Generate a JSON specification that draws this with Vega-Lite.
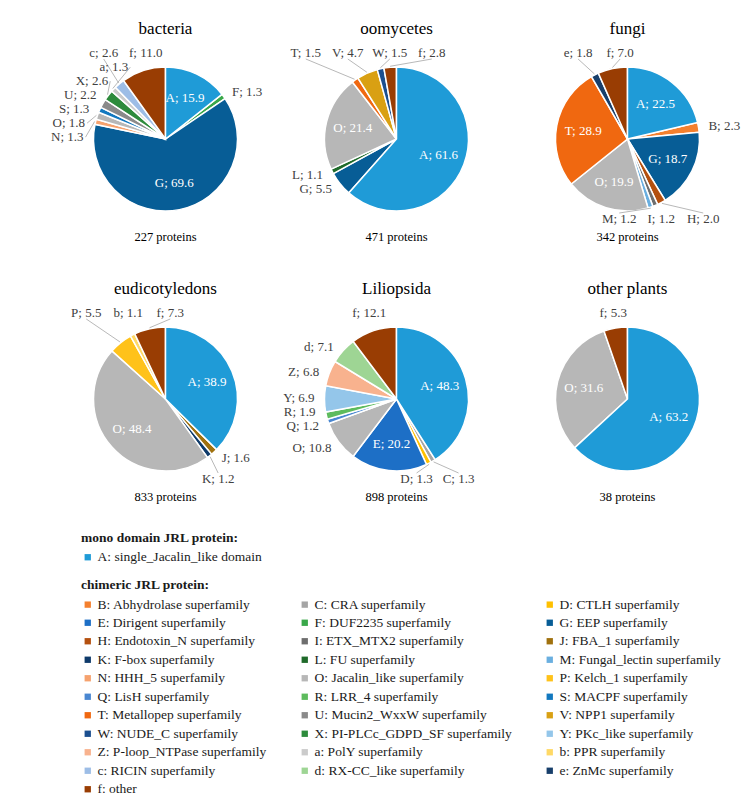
{
  "$schema": "https://vega.github.io/schema/vega-lite/v6.json",
  "padding": {"left": 50, "top": 9, "right": 0, "bottom": 3},
  "autosize": {"type": "pad"},
  "background": "white",
  "datasets": {
    "slices": [
      {"org": "bacteria", "cat": "A", "v": 15.9},
      {"org": "bacteria", "cat": "F", "v": 1.3},
      {"org": "bacteria", "cat": "G", "v": 69.6},
      {"org": "bacteria", "cat": "N", "v": 1.3},
      {"org": "bacteria", "cat": "O", "v": 1.8},
      {"org": "bacteria", "cat": "S", "v": 1.3},
      {"org": "bacteria", "cat": "U", "v": 2.2},
      {"org": "bacteria", "cat": "X", "v": 2.6},
      {"org": "bacteria", "cat": "a", "v": 1.3},
      {"org": "bacteria", "cat": "c", "v": 2.6},
      {"org": "bacteria", "cat": "f", "v": 11.0},
      {"org": "oomycetes", "cat": "A", "v": 61.6},
      {"org": "oomycetes", "cat": "G", "v": 5.5},
      {"org": "oomycetes", "cat": "L", "v": 1.1},
      {"org": "oomycetes", "cat": "O", "v": 21.4},
      {"org": "oomycetes", "cat": "T", "v": 1.5},
      {"org": "oomycetes", "cat": "V", "v": 4.7},
      {"org": "oomycetes", "cat": "W", "v": 1.5},
      {"org": "oomycetes", "cat": "f", "v": 2.8},
      {"org": "fungi", "cat": "A", "v": 22.5},
      {"org": "fungi", "cat": "B", "v": 2.3},
      {"org": "fungi", "cat": "G", "v": 18.7},
      {"org": "fungi", "cat": "H", "v": 2.0},
      {"org": "fungi", "cat": "I", "v": 1.2},
      {"org": "fungi", "cat": "M", "v": 1.2},
      {"org": "fungi", "cat": "O", "v": 19.9},
      {"org": "fungi", "cat": "T", "v": 28.9},
      {"org": "fungi", "cat": "e", "v": 1.8},
      {"org": "fungi", "cat": "f", "v": 7.0},
      {"org": "eudicotyledons", "cat": "A", "v": 38.9},
      {"org": "eudicotyledons", "cat": "J", "v": 1.6},
      {"org": "eudicotyledons", "cat": "K", "v": 1.2},
      {"org": "eudicotyledons", "cat": "O", "v": 48.4},
      {"org": "eudicotyledons", "cat": "P", "v": 5.5},
      {"org": "eudicotyledons", "cat": "b", "v": 1.1},
      {"org": "eudicotyledons", "cat": "f", "v": 7.3},
      {"org": "Liliopsida", "cat": "A", "v": 48.3},
      {"org": "Liliopsida", "cat": "C", "v": 1.3},
      {"org": "Liliopsida", "cat": "D", "v": 1.3},
      {"org": "Liliopsida", "cat": "E", "v": 20.2},
      {"org": "Liliopsida", "cat": "O", "v": 10.8},
      {"org": "Liliopsida", "cat": "Q", "v": 1.2},
      {"org": "Liliopsida", "cat": "R", "v": 1.9},
      {"org": "Liliopsida", "cat": "Y", "v": 6.9},
      {"org": "Liliopsida", "cat": "Z", "v": 6.8},
      {"org": "Liliopsida", "cat": "d", "v": 7.1},
      {"org": "Liliopsida", "cat": "f", "v": 12.1},
      {"org": "other plants", "cat": "A", "v": 63.2},
      {"org": "other plants", "cat": "O", "v": 31.6},
      {"org": "other plants", "cat": "f", "v": 5.3}
    ],
    "orgs": [
      {"org": "bacteria", "n": 227},
      {"org": "oomycetes", "n": 471},
      {"org": "fungi", "n": 342},
      {"org": "eudicotyledons", "n": 833},
      {"org": "Liliopsida", "n": 898},
      {"org": "other plants", "n": 38}
    ],
    "domains": [
      {"cat": "A", "name": "single_Jacalin_like domain"},
      {"cat": "B", "name": "Abhydrolase superfamily"},
      {"cat": "C", "name": "CRA superfamily"},
      {"cat": "D", "name": "CTLH superfamily"},
      {"cat": "E", "name": "Dirigent superfamily"},
      {"cat": "F", "name": "DUF2235 superfamily"},
      {"cat": "G", "name": "EEP superfamily"},
      {"cat": "H", "name": "Endotoxin_N superfamily"},
      {"cat": "I", "name": "ETX_MTX2 superfamily"},
      {"cat": "J", "name": "FBA_1 superfamily"},
      {"cat": "K", "name": "F-box superfamily"},
      {"cat": "L", "name": "FU superfamily"},
      {"cat": "M", "name": "Fungal_lectin superfamily"},
      {"cat": "N", "name": "HHH_5 superfamily"},
      {"cat": "O", "name": "Jacalin_like superfamily"},
      {"cat": "P", "name": "Kelch_1 superfamily"},
      {"cat": "Q", "name": "LisH superfamily"},
      {"cat": "R", "name": "LRR_4 superfamily"},
      {"cat": "S", "name": "MACPF superfamily"},
      {"cat": "T", "name": "Metallopep superfamily"},
      {"cat": "U", "name": "Mucin2_WxxW superfamily"},
      {"cat": "V", "name": "NPP1 superfamily"},
      {"cat": "W", "name": "NUDE_C superfamily"},
      {"cat": "X", "name": "PI-PLCc_GDPD_SF superfamily"},
      {"cat": "Y", "name": "PKc_like superfamily"},
      {"cat": "Z", "name": "P-loop_NTPase superfamily"},
      {"cat": "a", "name": "PolY superfamily"},
      {"cat": "b", "name": "PPR superfamily"},
      {"cat": "c", "name": "RICIN superfamily"},
      {"cat": "d", "name": "RX-CC_like superfamily"},
      {"cat": "e", "name": "ZnMc superfamily"},
      {"cat": "f", "name": "other"}
    ]
  },
  "data": {"name": "slices"},
  "transform": [
    {"lookup": "cat", "from": {"data": {"name": "domains"}, "key": "cat", "fields": ["name"]}},
    {"lookup": "org", "from": {"data": {"name": "orgs"}, "key": "org", "fields": ["n"]}},
    {"calculate": "datum.cat + ': ' + datum.name", "as": "dom"},
    {"joinaggregate": [{"op": "sum", "field": "v", "as": "tot"}], "groupby": ["org"]},
    {"window": [{"op": "sum", "field": "v", "as": "cum"}], "groupby": ["org"], "sort": [{"field": "cat", "order": "ascending"}], "frame": [null, 0]},
    {"calculate": "(datum.cum - datum.v) / datum.tot", "as": "t0"},
    {"calculate": "datum.cum / datum.tot", "as": "t1"},
    {"calculate": "(datum.t0 + datum.t1) * PI", "as": "mid"},
    {"calculate": "datum.mid * 180 / PI", "as": "deg"},
    {"calculate": "datum.v >= 15 ? 'in' : (datum.deg <= 40 || datum.deg >= 320) ? 'top' : (datum.deg >= 140 && datum.deg <= 220) ? 'bot' : (datum.deg < 180 ? 'right' : 'left')", "as": "zone"},
    {"calculate": "(datum.zone == 'top' || datum.zone == 'bot' ? 86 : 80) * sin(datum.mid)", "as": "nx"},
    {"calculate": "(datum.zone == 'top' || datum.zone == 'bot' ? 86 : 80) * cos(datum.mid)", "as": "ny"},
    {"calculate": "(datum.zone == 'top' || datum.zone == 'bot') ? datum.nx : datum.ny", "as": "s"},
    {"calculate": "(datum.zone == 'top' || datum.zone == 'bot') ? 42 : 14", "as": "gap"},
    {"window": [{"op": "row_number", "as": "rk"}], "groupby": ["org", "zone"], "sort": [{"field": "s", "order": "ascending"}]},
    {"calculate": "datum.s - datum.gap * datum.rk", "as": "z"},
    {"window": [{"op": "max", "field": "z", "as": "cz"}], "groupby": ["org", "zone"], "sort": [{"field": "s", "order": "ascending"}], "frame": [null, 0]},
    {"calculate": "datum.cz + datum.gap * datum.rk - datum.s", "as": "shift"},
    {"joinaggregate": [{"op": "mean", "field": "shift", "as": "msh"}], "groupby": ["org", "zone"]},
    {"calculate": "datum.s + datum.shift - datum.msh", "as": "sf"},
    {"calculate": "datum.zone == 'in' ? 45 * sin(datum.mid) : (datum.zone == 'top' || datum.zone == 'bot') ? datum.sf : (datum.zone == 'right' ? 1 : -1) * max(20, sqrt(max(0, 6400 - datum.sf * datum.sf)))", "as": "lx"},
    {"calculate": "datum.zone == 'in' ? 45 * cos(datum.mid) : datum.zone == 'top' ? 86 : datum.zone == 'bot' ? -80 : datum.sf", "as": "ly"},
    {"calculate": "datum.zone == 'top' ? datum.ly - 6 : datum.zone == 'bot' ? datum.ly + 6 : datum.ly", "as": "ly2"},
    {"calculate": "73 * sin(datum.mid)", "as": "ex"},
    {"calculate": "73 * cos(datum.mid)", "as": "ey"},
    {"calculate": "sqrt(pow(datum.lx - datum.nx, 2) + pow(datum.ly - datum.ny, 2))", "as": "moved"},
    {"calculate": "datum.cat + '; ' + format(datum.v, '.1f')", "as": "label"}
  ],
  "facet": {
    "field": "org",
    "type": "nominal",
    "sort": ["bacteria", "oomycetes", "fungi", "eudicotyledons", "Liliopsida", "other plants"],
    "header": {"labels": false, "title": null, "labelFontSize": 0, "labelPadding": 0, "labelExpr": "''"},
    "title": null
  },
  "columns": 3,
  "spacing": 0,
  "bounds": "flush",
  "spec": {
    "width": 231,
    "height": 260,
    "layer": [
      {
        "transform": [{"filter": "datum.cat != 'A'"}],
        "mark": {"type": "arc", "outerRadius": 72, "stroke": "white", "strokeWidth": 1.5},
        "encoding": {
          "theta": {"field": "t0", "type": "quantitative", "scale": {"domain": [0, 1]}, "stack": null},
          "theta2": {"field": "t1"},
          "color": {
            "field": "dom",
            "type": "nominal",
            "scale": {
              "domain": ["B: Abhydrolase superfamily", "C: CRA superfamily", "D: CTLH superfamily", "E: Dirigent superfamily", "F: DUF2235 superfamily", "G: EEP superfamily", "H: Endotoxin_N superfamily", "I: ETX_MTX2 superfamily", "J: FBA_1 superfamily", "K: F-box superfamily", "L: FU superfamily", "M: Fungal_lectin superfamily", "N: HHH_5 superfamily", "O: Jacalin_like superfamily", "P: Kelch_1 superfamily", "Q: LisH superfamily", "R: LRR_4 superfamily", "S: MACPF superfamily", "T: Metallopep superfamily", "U: Mucin2_WxxW superfamily", "V: NPP1 superfamily", "W: NUDE_C superfamily", "X: PI-PLCc_GDPD_SF superfamily", "Y: PKc_like superfamily", "Z: P-loop_NTPase superfamily", "a: PolY superfamily", "b: PPR superfamily", "c: RICIN superfamily", "d: RX-CC_like superfamily", "e: ZnMc superfamily", "f: other"],
              "range": ["#f4802e", "#a5a5a5", "#ffc000", "#1d6fc6", "#3aa84a", "#075d96", "#b4500f", "#6e6e6e", "#a0710e", "#0e3a6a", "#1f6a2a", "#6aafe0", "#f6a26e", "#b7b7b7", "#ffc21a", "#4a87d1", "#5dbb5d", "#1278bf", "#f06810", "#8a8a8a", "#d9a013", "#1b4f8f", "#2d8b3c", "#94c6ea", "#f8b28e", "#cbcbcb", "#ffd966", "#9dbde6", "#9ed594", "#183f6b", "#993d03"]
            },
            "legend": {
              "title": "chimeric JRL protein:",
              "orient": "none",
              "legendX": 31,
              "legendY": 569,
              "direction": "horizontal",
              "columns": 3,
              "columnPadding": 31,
              "rowPadding": 3.5,
              "symbolLimit": 0,
              "symbolType": "square",
              "symbolSize": 40,
              "symbolStrokeWidth": 0,
              "labelFontSize": 13.5,
              "labelLimit": 400,
              "labelOffset": 3,
              "labelColor": "#1a1a1a",
              "titleFontSize": 13.5,
              "titleFontWeight": "bold",
              "titleColor": "#1a1a1a",
              "titlePadding": 6,
              "titleLimit": 400
            }
          }
        }
      },
      {
        "transform": [{"filter": "datum.cat == 'A'"}],
        "mark": {"type": "arc", "outerRadius": 72, "stroke": "white", "strokeWidth": 1.5},
        "encoding": {
          "theta": {"field": "t0", "type": "quantitative", "scale": {"domain": [0, 1]}, "stack": null},
          "theta2": {"field": "t1"},
          "fill": {
            "field": "dom",
            "type": "nominal",
            "scale": {"domain": ["A: single_Jacalin_like domain"], "range": ["#1f9bd7"]},
            "legend": {
              "title": "mono domain JRL protein:",
              "orient": "none",
              "legendX": 31,
              "legendY": 522,
              "symbolType": "square",
              "symbolSize": 40,
              "symbolStrokeWidth": 0,
              "labelFontSize": 13.5,
              "labelLimit": 400,
              "labelOffset": 3,
              "labelColor": "#1a1a1a",
              "titleFontSize": 13.5,
              "titleFontWeight": "bold",
              "titleColor": "#1a1a1a",
              "titlePadding": 6,
              "titleLimit": 400
            }
          }
        }
      },
      {
        "transform": [{"filter": "datum.zone != 'in' && datum.moved > 10"}],
        "mark": {"type": "rule", "color": "#a6a6a6", "strokeWidth": 0.8},
        "encoding": {
          "x": {"field": "ex", "type": "quantitative", "scale": {"domain": [-115.5, 115.5], "nice": false, "zero": false}, "axis": null},
          "y": {"field": "ey", "type": "quantitative", "scale": {"domain": [-130, 130], "nice": false, "zero": false}, "axis": null},
          "x2": {"field": "lx"},
          "y2": {"field": "ly2"}
        }
      },
      {
        "transform": [{"filter": "datum.zone == 'in'"}],
        "mark": {"type": "text", "fontSize": 13, "color": "white", "align": "center", "baseline": "middle"},
        "encoding": {
          "x": {"field": "lx", "type": "quantitative", "scale": {"domain": [-115.5, 115.5], "nice": false, "zero": false}, "axis": null},
          "y": {"field": "ly", "type": "quantitative", "scale": {"domain": [-130, 130], "nice": false, "zero": false}, "axis": null},
          "text": {"field": "label"}
        }
      },
      {
        "transform": [{"filter": "datum.zone == 'left'"}],
        "mark": {"type": "text", "fontSize": 13, "color": "#404040", "align": "right", "baseline": "middle", "dx": -2},
        "encoding": {
          "x": {"field": "lx", "type": "quantitative", "scale": {"domain": [-115.5, 115.5], "nice": false, "zero": false}, "axis": null},
          "y": {"field": "ly", "type": "quantitative", "scale": {"domain": [-130, 130], "nice": false, "zero": false}, "axis": null},
          "text": {"field": "label"}
        }
      },
      {
        "transform": [{"filter": "datum.zone == 'right'"}],
        "mark": {"type": "text", "fontSize": 13, "color": "#404040", "align": "left", "baseline": "middle", "dx": 2},
        "encoding": {
          "x": {"field": "lx", "type": "quantitative", "scale": {"domain": [-115.5, 115.5], "nice": false, "zero": false}, "axis": null},
          "y": {"field": "ly", "type": "quantitative", "scale": {"domain": [-130, 130], "nice": false, "zero": false}, "axis": null},
          "text": {"field": "label"}
        }
      },
      {
        "transform": [{"filter": "datum.zone == 'top' || datum.zone == 'bot'"}],
        "mark": {"type": "text", "fontSize": 13, "color": "#404040", "align": "center", "baseline": "middle"},
        "encoding": {
          "x": {"field": "lx", "type": "quantitative", "scale": {"domain": [-115.5, 115.5], "nice": false, "zero": false}, "axis": null},
          "y": {"field": "ly", "type": "quantitative", "scale": {"domain": [-130, 130], "nice": false, "zero": false}, "axis": null},
          "text": {"field": "label"}
        }
      },
      {
        "transform": [{"aggregate": [{"op": "max", "field": "n", "as": "n"}], "groupby": ["org"]}],
        "mark": {"type": "text", "fontSize": 17, "color": "#000000", "align": "center", "baseline": "middle"},
        "encoding": {
          "x": {"datum": 0, "type": "quantitative", "scale": {"domain": [-115.5, 115.5], "nice": false, "zero": false}, "axis": null},
          "y": {"datum": 110, "type": "quantitative", "scale": {"domain": [-130, 130], "nice": false, "zero": false}, "axis": null},
          "text": {"field": "org"}
        }
      },
      {
        "transform": [
          {"aggregate": [{"op": "max", "field": "n", "as": "n"}], "groupby": ["org"]},
          {"calculate": "datum.n + ' proteins'", "as": "ptxt"}
        ],
        "mark": {"type": "text", "fontSize": 12.5, "color": "#000000", "align": "center", "baseline": "middle"},
        "encoding": {
          "x": {"datum": 0, "type": "quantitative", "scale": {"domain": [-115.5, 115.5], "nice": false, "zero": false}, "axis": null},
          "y": {"datum": -98, "type": "quantitative", "scale": {"domain": [-130, 130], "nice": false, "zero": false}, "axis": null},
          "text": {"field": "ptxt"}
        }
      }
    ]
  },
  "config": {
    "font": "Liberation Serif",
    "view": {"stroke": null},
    "header": {"labels": false, "labelFontSize": 0, "labelPadding": 0, "titleFontSize": 0, "titlePadding": 0},
    "headerFacet": {"labels": false, "labelFontSize": 0, "labelPadding": 0, "titleFontSize": 0, "titlePadding": 0}
  }
}
